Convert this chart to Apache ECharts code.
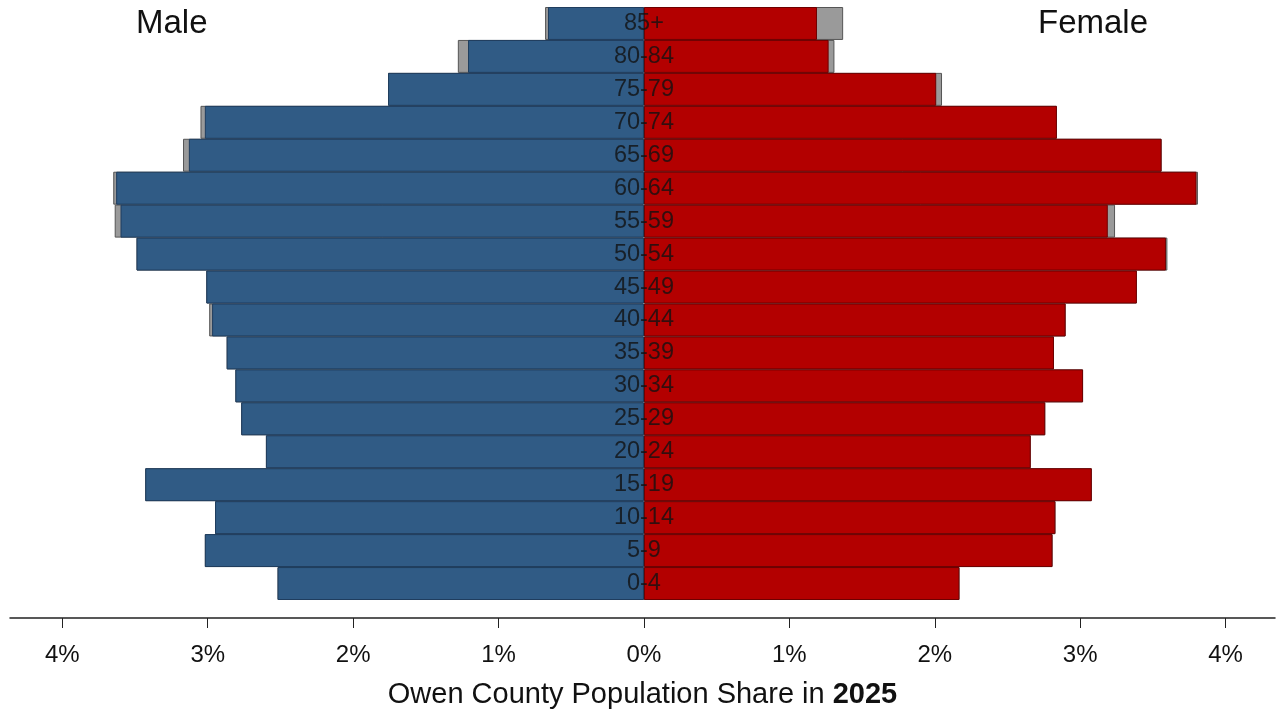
<!DOCTYPE html>
<html>
<head>
<meta charset="utf-8">
<script src="https://cdn.jsdelivr.net/npm/echarts@6/dist/echarts.min.js"></script>
<style>
html,body{margin:0;padding:0;background:#fff;}
#chart{width:1281px;height:715px;}
</style>
</head>
<body>
<div id="chart"></div>
<script>
// Age groups, bottom to top
const ageGroups = ['0-4','5-9','10-14','15-19','20-24','25-29','30-34','35-39','40-44','45-49','50-54','55-59','60-64','65-69','70-74','75-79','80-84','85+'];
// Male share (%) 2025
const male = [2.52, 3.02, 2.95, 3.43, 2.60, 2.77, 2.81, 2.87, 2.97, 3.01, 3.49, 3.60, 3.63, 3.13, 3.02, 1.76, 1.21, 0.66];
// Male comparison share (%) (gray)
const maleCompare = [2.52, 3.02, 2.95, 3.43, 2.60, 2.77, 2.81, 2.87, 2.99, 3.01, 3.49, 3.64, 3.65, 3.17, 3.05, 1.76, 1.28, 0.68];
// Female share (%) 2025
const female = [2.17, 2.81, 2.83, 3.08, 2.66, 2.76, 3.02, 2.82, 2.90, 3.39, 3.59, 3.19, 3.80, 3.56, 2.84, 2.01, 1.27, 1.19];
// Female comparison share (%) (gray)
const femaleCompare = [2.17, 2.81, 2.83, 3.08, 2.66, 2.76, 3.02, 2.82, 2.90, 3.39, 3.60, 3.24, 3.81, 3.56, 2.84, 2.05, 1.31, 1.37];
// Tick values on the share axis
const tickValues = [-4, -3, -2, -1, 0, 1, 2, 3, 4];

const FONT = '"Liberation Sans", Arial, Helvetica, sans-serif';
const chart = echarts.init(document.getElementById('chart'), null, {renderer: 'canvas'});

const neg = a => a.map(v => -v);

chart.setOption({
  backgroundColor: '#ffffff',
  animation: false,
  title: [
    {text: 'Male', left: 136, top: 7, padding: 0,
     textStyle: {fontFamily: FONT, fontSize: 33, fontWeight: 'normal', color: '#111'}},
    {text: 'Female', left: 1038, top: 7, padding: 0,
     textStyle: {fontFamily: FONT, fontSize: 33, fontWeight: 'normal', color: '#111'}}
  ],
  grid: {left: 10, right: 6, top: 7, bottom: 115, containLabel: false, outerBoundsMode: 'none'},
  xAxis: {
    type: 'value',
    min: -4.36,
    max: 4.34,
    offset: 18,
    splitLine: {show: false},
    axisLine: {show: true, onZero: false, lineStyle: {color: '#222', width: 1.5}},
    axisTick: {show: true, length: 10, customValues: tickValues, lineStyle: {color: '#222', width: 1}},
    axisLabel: {
      customValues: tickValues,
      margin: 25,
      fontFamily: FONT, fontSize: 24, color: '#111',
      formatter: v => Math.abs(Math.round(v)) + '%'
    },
    name: 'Owen County Population Share in {b|2025}',
    nameLocation: 'middle',
    nameGap: 62,
    nameTextStyle: {
      fontFamily: FONT, fontSize: 29, color: '#111',
      rich: {b: {fontFamily: FONT, fontSize: 29, fontWeight: 'bold', color: '#111'}}
    }
  },
  yAxis: {
    type: 'category',
    data: ageGroups,
    show: false,
    boundaryGap: true
  },
  series: [
    {name: 'Male comparison', type: 'bar', data: neg(maleCompare), barWidth: '100%', barGap: '-100%',
     itemStyle: {color: '#9a9a9a', borderColor: '#555', borderWidth: 1}, z: 1},
    {name: 'Female comparison', type: 'bar', data: femaleCompare, barWidth: '100%', barGap: '-100%',
     itemStyle: {color: '#9a9a9a', borderColor: '#555', borderWidth: 1}, z: 1},
    {name: 'Male', type: 'bar', data: neg(male), barWidth: '100%', barGap: '-100%',
     itemStyle: {color: '#305b85', borderColor: '#1f3d5e', borderWidth: 1}, z: 2},
    {name: 'Female', type: 'bar', data: female, barWidth: '100%', barGap: '-100%',
     itemStyle: {color: '#b30000', borderColor: '#6e0000', borderWidth: 1}, z: 2},
    {name: 'Labels', type: 'scatter', z: 5,
     data: ageGroups.map(g => [0, g]),
     symbolSize: 1,
     itemStyle: {color: 'rgba(0,0,0,0)'},
     label: {show: true, position: 'inside', formatter: p => p.value[1],
             fontFamily: FONT, fontSize: 23.5, color: '#111'},
     silent: true}
  ]
});
</script>
</body>
</html>
